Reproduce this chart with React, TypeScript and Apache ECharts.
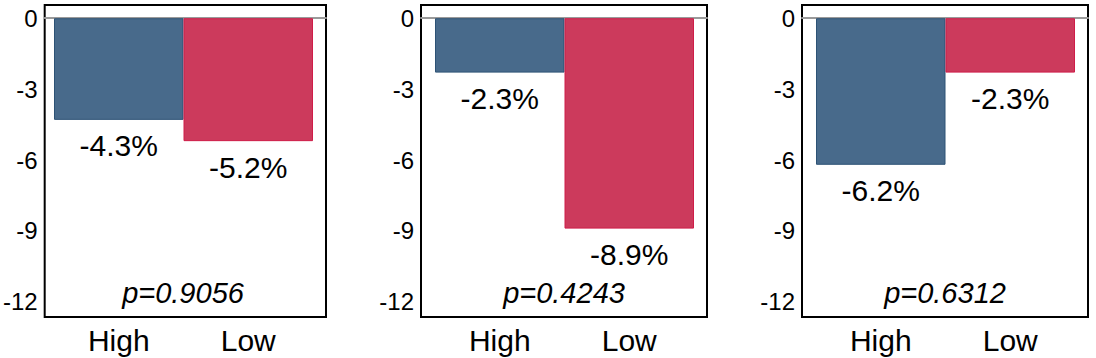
import React, { useEffect, useRef } from "react";
import * as echarts from "echarts";

const categories = ["High", "Low"];
const panelValues = [
  [-4.3, -5.2],
  [-2.3, -8.9],
  [-6.2, -2.3],
];
const pValues = ["p=0.9056", "p=0.4243", "p=0.6312"];
const yTicks = [0, -3, -6, -9, -12];
const barColors = ["#486a8b", "#cc3a5c"];
const barBorders = ["#2d5275", "#cf1c48"];

const FONT = "Arial, 'Liberation Sans', Helvetica, sans-serif";
const Y_MIN = -12.64;
const Y_MAX = 0.56;

export default function App() {
  const ref = useRef<HTMLDivElement>(null);
  useEffect(() => {
    if (!ref.current) return;
    const chart = echarts.init(ref.current, null, { renderer: "svg" });
    const grids: any[] = [];
    const xAxes: any[] = [];
    const yAxes: any[] = [];
    const series: any[] = [];
    const graphics: any[] = [];
    panelValues.forEach((vals, i) => {
      const boxLeft = 40 + 381 * i;
      grids.push({
        left: boxLeft,
        top: 5,
        width: 286,
        height: 312,
        show: true,
        borderColor: "#000",
        borderWidth: 2,
        backgroundColor: "#fff",
        z: 0,
      });
      grids.push({ left: boxLeft + 14, top: 5, width: 259, height: 312, show: false });
      const ga = 2 * i;
      const gb = 2 * i + 1;
      xAxes.push({
        gridIndex: ga,
        type: "value",
        min: 0,
        max: 1,
        axisLine: { show: true, onZero: true, lineStyle: { color: "#9a9a9a", width: 2 } },
        axisTick: { show: false },
        axisLabel: { show: false },
        splitLine: { show: false },
      });
      yAxes.push({
        gridIndex: ga,
        type: "value",
        min: Y_MIN,
        max: Y_MAX,
        axisLine: { show: false },
        axisTick: { show: false },
        splitLine: { show: false },
        axisLabel: {
          customValues: yTicks,
          color: "#000",
          fontSize: 24,
          fontFamily: FONT,
          margin: 7,
        },
      });
      xAxes.push({
        gridIndex: gb,
        type: "category",
        data: categories,
        position: "bottom",
        axisLine: { show: false, onZero: false },
        axisTick: { show: false },
        axisLabel: { color: "#000", fontSize: 30, fontFamily: FONT, margin: 8 },
      });
      yAxes.push({
        gridIndex: gb,
        type: "value",
        min: Y_MIN,
        max: Y_MAX,
        show: false,
        splitLine: { show: false },
      });
      series.push({
        type: "bar",
        xAxisIndex: 2 * i + 1,
        yAxisIndex: 2 * i + 1,
        barWidth: "100%",
        data: vals.map((v, k) => ({
          value: v,
          itemStyle: { color: barColors[k], borderColor: barBorders[k], borderWidth: 1 },
        })),
        label: {
          show: true,
          position: "bottom",
          distance: 11,
          color: "#000",
          fontSize: 30,
          fontFamily: FONT,
          formatter: (p: any) => `${Number(p.value).toFixed(1)}%`,
        },
        z: 3,
      });
      graphics.push({
        type: "text",
        x: boxLeft + 143,
        y: 293,
        z: 10,
        style: {
          text: pValues[i],
          fill: "#000",
          font: `italic 29px ${FONT}`,
          align: "center",
          verticalAlign: "middle",
        },
      });
    });
    chart.setOption({
      animation: false,
      backgroundColor: "#fff",
      grid: grids,
      xAxis: xAxes,
      yAxis: yAxes,
      series,
      graphic: graphics,
    });
    return () => chart.dispose();
  }, []);
  return (
    <div
      ref={ref}
      style={{ position: "fixed", left: 0, top: 0, width: 1096, height: 358 }}
    />
  );
}
